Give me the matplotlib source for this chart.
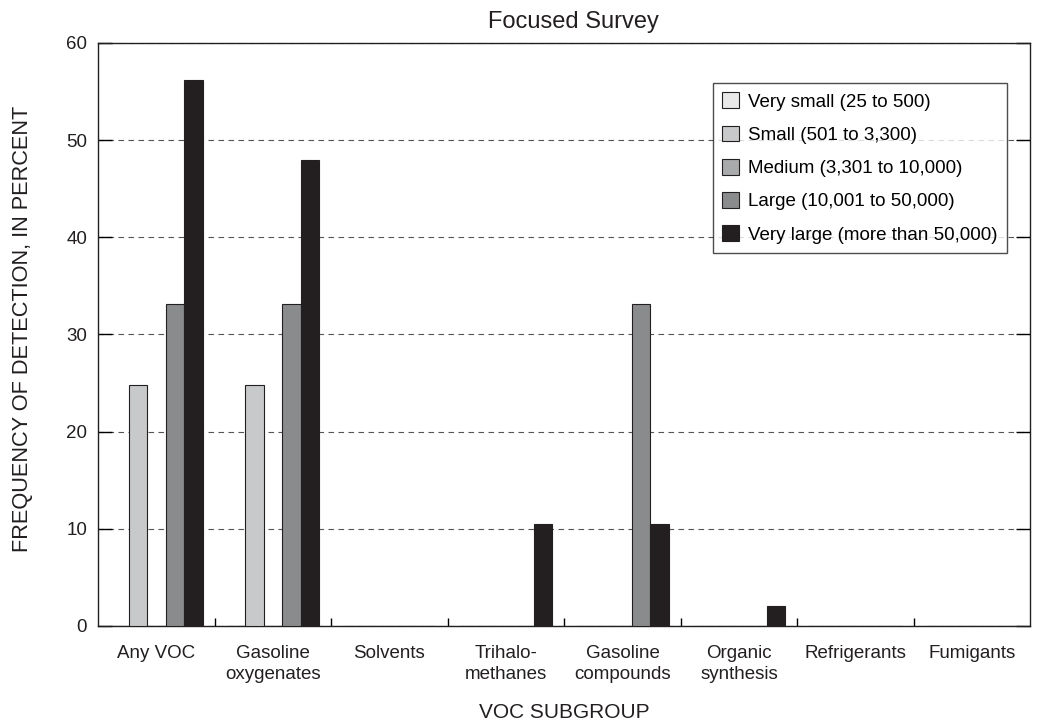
import numpy as np
import matplotlib

matplotlib.use("Agg")
import matplotlib.pyplot as plt
from matplotlib.ticker import MultipleLocator, FixedLocator

plt.rcParams["font.family"] = ["Liberation Sans", "DejaVu Sans"]

categories = [
    "Any VOC",
    "Gasoline\noxygenates",
    "Solvents",
    "Trihalo-\nmethanes",
    "Gasoline\ncompounds",
    "Organic\nsynthesis",
    "Refrigerants",
    "Fumigants",
]
series_names = [
    "Very small (25 to 500)",
    "Small (501 to 3,300)",
    "Medium (3,301 to 10,000)",
    "Large (10,001 to 50,000)",
    "Very large (more than 50,000)",
]
very_small = [0, 0, 0, 0, 0, 0, 0, 0]
small = [24.8, 24.8, 0, 0, 0, 0, 0, 0]
medium = [0, 0, 0, 0, 0, 0, 0, 0]
large = [33.1, 33.1, 0, 0, 33.1, 0, 0, 0]
very_large = [56.2, 47.9, 0, 10.5, 10.5, 2.1, 0, 0]
series = [very_small, small, medium, large, very_large]
colors = ["#e8e8e8", "#c8c9cb", "#a9aaac", "#8a8b8d", "#231f20"]

fig = plt.figure(figsize=(10.44, 7.27), dpi=100)
ax = fig.add_axes([0.094, 0.139, 0.893, 0.802])

x = np.arange(len(categories))
w = 0.159
for i, (vals, c, name) in enumerate(zip(series, colors, series_names)):
    ax.bar(x + (i - 2) * w, vals, width=w, color=c, edgecolor="#231f20",
           linewidth=0.8, label=name, zorder=3)

ax.set_xlim(-0.5, len(categories) - 0.5)
ax.set_ylim(0, 60)
ax.yaxis.set_major_locator(MultipleLocator(10))
ax.yaxis.grid(True, linestyle=(0, (5, 4)), color="#555555", linewidth=0.8, zorder=0)

ax.set_xticks(x)
ax.set_xticklabels(categories, fontsize=13.5, color="#231f20", linespacing=1.3)
ax.tick_params(axis="x", which="major", length=0, pad=14)
ax.xaxis.set_minor_locator(FixedLocator(np.arange(0.5, len(categories) - 0.5, 1)))
ax.tick_params(axis="x", which="minor", direction="in", length=6, width=1)
ax.tick_params(axis="y", direction="in", length=10, width=1, left=True,
               right=True, labelsize=13.5, pad=8, labelcolor="#231f20")

for s in ax.spines.values():
    s.set_linewidth(1)
    s.set_color("#231f20")

ax.set_title("Focused Survey", fontsize=17, pad=11, color="#231f20", x=0.51)
ax.set_xlabel("VOC SUBGROUP", fontsize=15, labelpad=14, color="#231f20")
ax.set_ylabel("FREQUENCY OF DETECTION, IN PERCENT", fontsize=15.7,
              labelpad=24, color="#231f20", y=0.51)

leg = ax.legend(loc="upper right", bbox_to_anchor=(0.975, 0.931),
                borderaxespad=0, fontsize=13.5, frameon=True, fancybox=False,
                edgecolor="#231f20", handlelength=0.9, handleheight=0.9,
                labelspacing=0.8, borderpad=0.5, handletextpad=0.5)
leg.get_frame().set_linewidth(1)
leg.set_zorder(5)

fig.savefig("out.png", dpi=100)
